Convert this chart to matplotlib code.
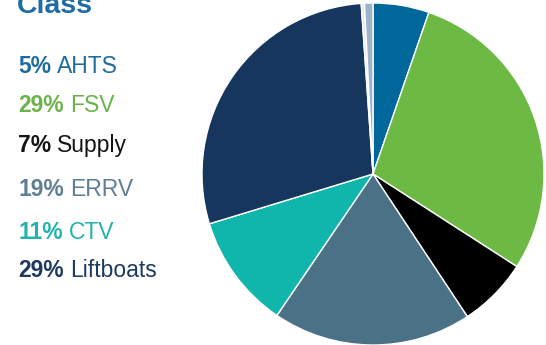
import matplotlib
matplotlib.use("Agg")
import matplotlib.pyplot as plt

categories = ["AHTS", "FSV", "Supply", "ERRV", "CTV", "Liftboats", "Other A", "Other B"]
shares = [5.3, 28.8, 6.6, 18.8, 10.8, 28.6, 0.3, 0.8]
label_pcts = ["5%", "29%", "7%", "19%", "11%", "29%"]
label_names = ["AHTS", "FSV", "Supply", "ERRV", "CTV", "Liftboats"]
wedge_colors = ["#00679b", "#6cb944", "#000000", "#4b7186", "#10b5ac", "#17365d", "#dfe7ee", "#9db3c7"]
text_colors = ["#1f6c9c", "#6ab34a", "#141414", "#5d7e93", "#22b3ad", "#1c3a5f"]

W, H = 546, 345
fig = plt.figure(figsize=(W / 100, H / 100), dpi=100)
fig.patch.set_facecolor("white")
plt.rcParams["font.family"] = ["Liberation Sans", "DejaVu Sans"]

# pie
cx, cy, r = 373, 174, 171
ax = fig.add_axes([(cx - r) / W, (H - cy - r) / H, 2 * r / W, 2 * r / H])
ax.pie(shares, colors=wedge_colors, startangle=90, counterclock=False,
       wedgeprops=dict(edgecolor="white", linewidth=1.0), radius=1.0)
ax.set_xlim(-1, 1)
ax.set_ylim(-1, 1)
ax.set_aspect("equal")
ax.axis("off")

# title (partly cut at top, as in the reference)
fig.text(17 / W, 1 - 13 / H, "Class", fontsize=20.5, fontweight="bold",
         color="#1f6ca4", ha="left", va="baseline")

# legend-like labels
baselines = [73, 112, 152, 196, 239, 277]
fig.canvas.draw()
renderer = fig.canvas.get_renderer()
for pct, name, col, yb in zip(label_pcts, label_names, text_colors, baselines):
    t = fig.text(18 / W, 1 - yb / H, pct, fontsize=16.5, fontweight="bold",
                 color=col, ha="left", va="baseline")
    bb = t.get_window_extent(renderer=renderer)
    fig.text((bb.x1 + 6) / W, 1 - yb / H, name, fontsize=16.5,
             color=col, ha="left", va="baseline")

fig.savefig("out.png", dpi=100, facecolor="white")
